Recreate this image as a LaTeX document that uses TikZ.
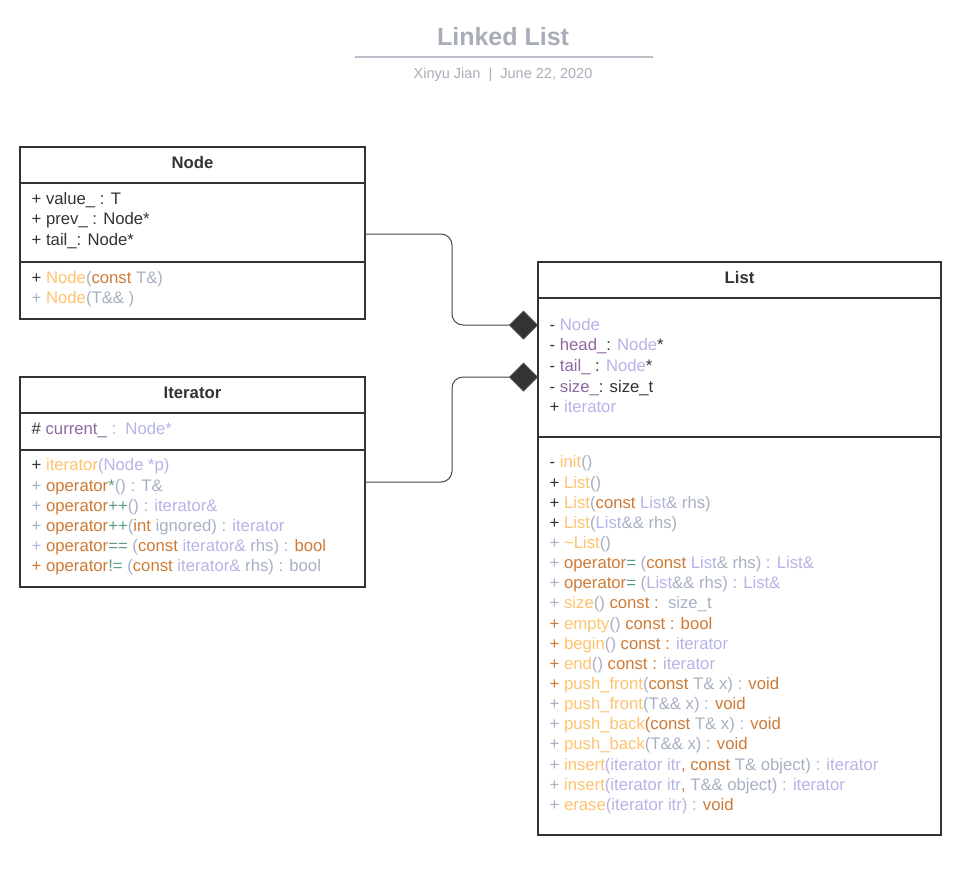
\documentclass[tikz,border=0pt]{standalone}
\usepackage{fontspec}
\setmainfont{Liberation Sans}
\usetikzlibrary{arrows.meta}

% palette
\definecolor{ink}{HTML}{333333}
\definecolor{slate}{HTML}{A7B1C3}
\definecolor{lilac}{HTML}{B6B4E8}
\definecolor{plum}{HTML}{8E6AA0}
\definecolor{peach}{HTML}{FFC36E}
\definecolor{rust}{HTML}{CF7A35}
\definecolor{opgreen}{HTML}{5E9C89}
\definecolor{titlegrey}{HTML}{A8AEB7}
\definecolor{rulegrey}{HTML}{BAC0C8}

% syntax colouring helpers (\relax keeps a leading space from being swallowed)
\newcommand\Sl[1]{\textcolor{slate}{\relax#1}}
\newcommand\Li[1]{\textcolor{lilac}{\relax#1}}
\newcommand\Pl[1]{\textcolor{plum}{\relax#1}}
\newcommand\Pe[1]{\textcolor{peach}{\relax#1}}
\newcommand\Ru[1]{\textcolor{rust}{\relax#1}}
\newcommand\Op[1]{\textcolor{opgreen}{\relax#1}}
\newcommand\ml[1]{\strut#1}

\tikzset{
  x=1pt, y=-1pt,
  compart/.style={draw=ink, line width=2pt, fill=white, inner sep=0pt,
    outer sep=0pt, anchor=north west},
  header/.style={compart, font=\fontsize{16.7}{20}\selectfont\bfseries,
    text=ink, text height=12pt, text depth=5pt},
  attrs/.style={anchor=north west, inner sep=0pt, align=left, text=ink,
    font=\fontsize{16.7}{20.4}\selectfont},
  ops/.style={anchor=north west, inner sep=0pt, align=left, text=ink,
    font=\fontsize{16.7}{20.16}\selectfont},
  link/.style={draw=ink!90, line width=1pt, rounded corners=11pt,
    -{Diamond[length=29pt,width=29pt,fill=ink]}},
}

\begin{document}
\begin{tikzpicture}
\useasboundingbox[fill=white] (0,0) rectangle (968,879);

% ---- title block
\node[anchor=base, inner sep=0pt, text=titlegrey,
      font=\fontsize{25}{30}\selectfont\bfseries] (title) at (503,45.7) {Linked List};
\draw[rulegrey, line width=2.5pt] (355,57) -- (653,57);
\node[anchor=base, inner sep=0pt, text=titlegrey,
      font=\fontsize{14.5}{18}\selectfont] (byline) at (503,78)
      {Xinyu Jian\ \ |\ \ June 22, 2020};

% ---- class Node
\node[header, minimum width=345pt, minimum height=36pt] (nodeHead) at (20,147) {Node};
\node[compart, minimum width=345pt, minimum height=79pt] (nodeAttr) at (nodeHead.south west) {};
\node[compart, minimum width=345pt, minimum height=57pt] (nodeOps) at (nodeAttr.south west) {};
\node[attrs, font=\fontsize{16.7}{20.35}\selectfont] (nodeAttrText) at (31.5,190.1) {%
  \ml{+ value\_ : T}\\
  \ml{+ prev\_ : Node*}\\
  \ml{+ tail\_: Node*}};
\node[ops, font=\fontsize{16.7}{20}\selectfont] (nodeOpsText) at (31.5,269.3) {%
  \ml{+ \Pe{Node}\Sl{(}\Ru{const} \Sl{T\&)}}\\
  \ml{\Sl{+ }\Pe{Node}\Sl{(T\&\& )}}};

% ---- class Iterator
\node[header, minimum width=345pt, minimum height=36pt] (iterHead) at (20,377) {Iterator};
\node[compart, minimum width=345pt, minimum height=37pt] (iterAttr) at (iterHead.south west) {};
\node[compart, minimum width=345pt, minimum height=137pt] (iterOps) at (iterAttr.south west) {};
\node[attrs] (iterAttrText) at (31.5,420.1) {%
  \ml{\# \Pl{current\_} \Sl{:}\ \ \Li{Node*}}};
\node[ops, font=\fontsize{16.7}{20.2}\selectfont] (iterOpsText) at (31.5,456.6) {%
  \ml{+ \Pe{iterator}\Li{(Node *p)}}\\
  \ml{\Sl{+ }\Ru{operator}\Op{*}\Sl{() : T\&}}\\
  \ml{\Sl{+ }\Ru{operator}\Op{++}\Sl{() : }\Li{iterator\&}}\\
  \ml{\Sl{+ }\Ru{operator}\Op{++}\Sl{(}\Ru{int}\Sl{ ignored) : }\Li{iterator}}\\
  \ml{\Li{+ }\Ru{operator}\Op{==}\Sl{ (}\Ru{const}\Li{ iterator\&}\Sl{ rhs) : }\Ru{bool}}\\
  \ml{\Ru{+ operator}\Op{!=}\Sl{ (}\Ru{const}\Li{ iterator\&}\Sl{ rhs) : bool}}};

% ---- class List
\node[header, minimum width=403pt, minimum height=36pt] (listHead) at (538,262) {List};
\node[compart, minimum width=403pt, minimum height=139pt] (listAttr) at (listHead.south west) {};
\node[compart, minimum width=403pt, minimum height=398pt] (listOps) at (listAttr.south west) {};
\node[attrs, font=\fontsize{16.7}{20.6}\selectfont] (listAttrText) at (549.5,315.6) {%
  \ml{- \Li{Node}}\\
  \ml{- \Pl{head\_}: \Li{Node}*}\\
  \ml{- \Pl{tail\_} : \Li{Node}*}\\
  \ml{- \Pl{size\_}: size\_t}\\
  \ml{+ \Li{iterator}}};
\node[ops, font=\fontsize{16.7}{20.14}\selectfont] (listOpsText) at (549.5,453.6) {%
  \ml{- \Pe{init}\Sl{()}}\\
  \ml{+ \Pe{List}\Sl{()}}\\
  \ml{+ \Pe{List}\Sl{(}\Ru{const} \Li{List}\Sl{\& rhs)}}\\
  \ml{+ \Pe{List}\Sl{(}\Li{List}\Sl{\&\& rhs)}}\\
  \ml{\Sl{+ }\Pe{\textasciitilde List}\Sl{()}}\\
  \ml{\Sl{+ }\Ru{operator}\Op{=}\Sl{ (}\Ru{const}\Li{ List}\Sl{\& rhs) : }\Li{List\&}}\\
  \ml{\Sl{+ }\Ru{operator}\Op{=}\Sl{ (}\Li{List}\Sl{\&\& rhs) : }\Li{List\&}}\\
  \ml{\Sl{+ }\Pe{size}\Sl{()}\Ru{ const :}\Sl{\ \ size\_t}}\\
  \ml{\Ru{+ }\Pe{empty}\Sl{()}\Ru{ const : bool}}\\
  \ml{\Ru{+ }\Pe{begin}\Sl{()}\Ru{ const :}\Li{ iterator}}\\
  \ml{\Ru{+ }\Pe{end}\Sl{()}\Ru{ const :}\Li{ iterator}}\\
  \ml{\Ru{+ }\Pe{push\_front}\Sl{(}\Ru{const}\Sl{ T\& x) : }\Ru{void}}\\
  \ml{\Sl{+ }\Pe{push\_front}\Sl{(T\&\& x) : }\Ru{void}}\\
  \ml{\Sl{+ }\Pe{push\_back}\Ru{(const}\Sl{ T\& x) : }\Ru{void}}\\
  \ml{\Sl{+ }\Pe{push\_back}\Sl{(T\&\& x) : }\Ru{void}}\\
  \ml{\Sl{+ }\Pe{insert}\Li{(iterator itr}\Ru{, const}\Sl{ T\& object) : }\Li{iterator}}\\
  \ml{\Sl{+ }\Pe{insert}\Li{(iterator itr}\Ru{, }\Sl{T\&\& object) : }\Li{iterator}}\\
  \ml{\Sl{+ }\Pe{erase}\Li{(iterator itr)}\Sl{ : }\Ru{void}}};

% ---- composition links
\draw[link] (nodeAttr.east |- 0,234) -- (452,234) -- (452,325)
  -- (listAttr.west |- 0,325);
\draw[link] (iterOps.east |- 0,482) -- (452,482) -- (452,377)
  -- (listAttr.west |- 0,377);
\end{tikzpicture}
\end{document}
